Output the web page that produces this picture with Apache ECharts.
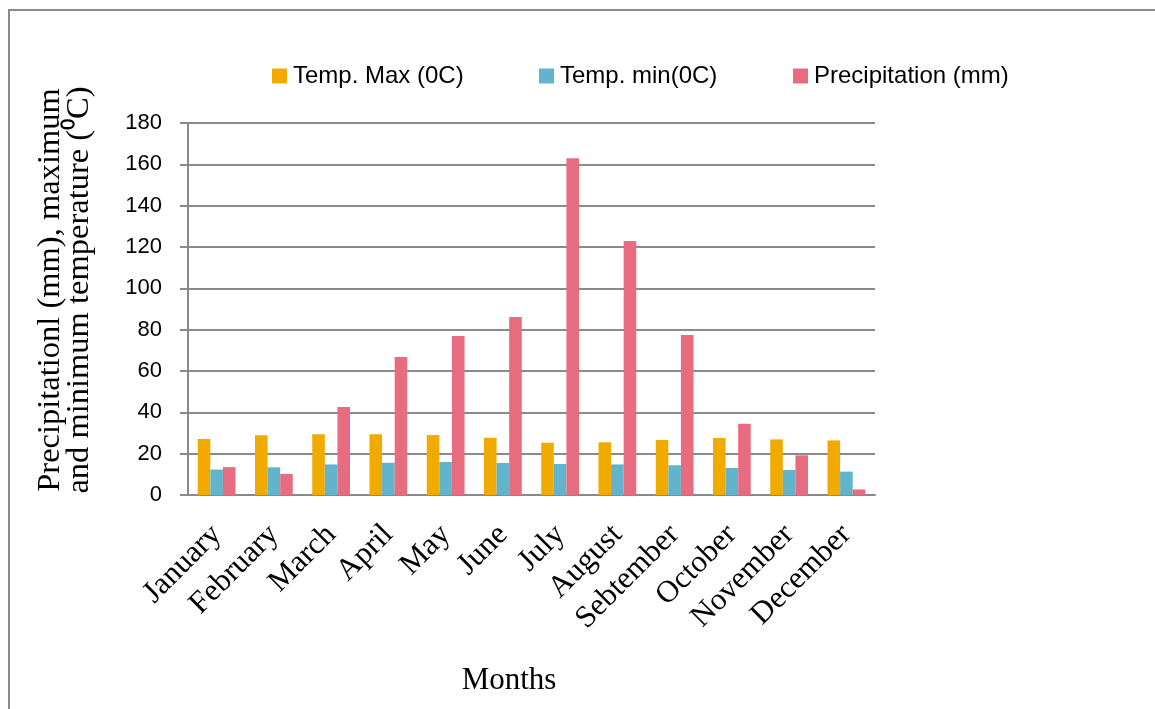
<!DOCTYPE html>
<html>
<head>
<meta charset="utf-8">
<script src="https://cdn.jsdelivr.net/npm/echarts@6/dist/echarts.min.js"></script>
<style>
  html, body { margin: 0; padding: 0; background: #fff; }
  #chart { position: absolute; left: 0; top: 0; width: 1155px; height: 709px; }
  /* frame around the chart area (left and top edges visible) */
  #frame { position: absolute; left: 8px; top: 9px; width: 1200px; height: 760px;
           border-left: 2px solid #8a8a8a; border-top: 2px solid #8a8a8a; pointer-events: none; }
</style>
</head>
<body>
<div id="chart"></div>
<div id="frame"></div>
<script>
// Monthly climate data
const months = ['January', 'February', 'March', 'April', 'May', 'June', 'July',
                'August', 'Sebtember', 'October', 'November', 'December'];
const seriesNames = ['Temp. Max (0C)', 'Temp. min(0C)', 'Precipitation (mm)'];
const tempMax = [27.1, 28.9, 29.4, 29.4, 29.0, 27.7, 25.3, 25.5, 26.6, 27.6, 26.9, 26.4];
const tempMin = [12.3, 13.4, 14.8, 15.6, 16.0, 15.5, 15.0, 14.8, 14.4, 13.1, 12.1, 11.3];
const precip  = [13.5, 10.2, 42.6, 66.8, 76.9, 86.1, 163.0, 122.9, 77.4, 34.5, 19.2, 2.7];
const yTicks = { min: 0, max: 180, interval: 20 };
const colors = ['#F1AA00', '#62B4CC', '#E76C7F'];

const serif = '"Liberation Serif", "Times New Roman", serif';
const sans = '"Liberation Sans", Arial, sans-serif';
const gridColor = '#8a8a8a';

const chart = echarts.init(document.getElementById('chart'), null, { renderer: 'canvas' });

const legendLefts = [272, 539, 793];
const legends = seriesNames.map((n, i) => ({
  data: [n],
  left: legendLefts[i],
  top: 64,
  icon: 'rect',
  itemWidth: 15,
  itemHeight: 15,
  itemGap: 0,
  padding: 0,
  textStyle: { fontFamily: sans, fontSize: 24, color: '#000', padding: [0, 0, 0, 1] }
}));

const values = [tempMax, tempMin, precip];

chart.setOption({
  animation: false,
  color: colors,
  legend: legends,
  grid: { left: 188, right: 280, top: 123, bottom: 214, containLabel: false },
  xAxis: {
    type: 'category',
    data: months,
    axisLine: { lineStyle: { color: gridColor, width: 2 } },
    axisTick: { show: false },
    axisLabel: {
      rotate: 45, interval: 0, margin: 35,
      fontFamily: serif, fontSize: 31, color: '#000'
    }
  },
  yAxis: {
    type: 'value',
    min: yTicks.min, max: yTicks.max, interval: yTicks.interval,
    axisLine: { show: true, lineStyle: { color: gridColor, width: 2 } },
    axisTick: { show: true, length: 8, lineStyle: { color: gridColor, width: 2 } },
    splitLine: { lineStyle: { color: gridColor, width: 2 } },
    axisLabel: { margin: 26, fontFamily: sans, fontSize: 22, color: '#000' }
  },
  graphic: [
    {
      type: 'text',
      x: 65, y: 290,
      rotation: Math.PI / 2,
      style: {
        text: 'Precipitationl (mm), maximum\nand minimum temperature (\u2070C)',
        fontFamily: serif, fontSize: 32.5, lineHeight: 29,
        fill: '#000', align: 'center', verticalAlign: 'middle'
      }
    },
    {
      type: 'text',
      x: 509, y: 681,
      style: {
        text: 'Months',
        fontFamily: serif, fontSize: 31,
        fill: '#000', align: 'center', verticalAlign: 'middle'
      }
    }
  ],
  series: seriesNames.map((n, i) => ({
    name: n,
    type: 'bar',
    data: values[i],
    barGap: '0%',
    barCategoryGap: '34%',
    itemStyle: { color: colors[i] }
  }))
});
</script>
</body>
</html>
